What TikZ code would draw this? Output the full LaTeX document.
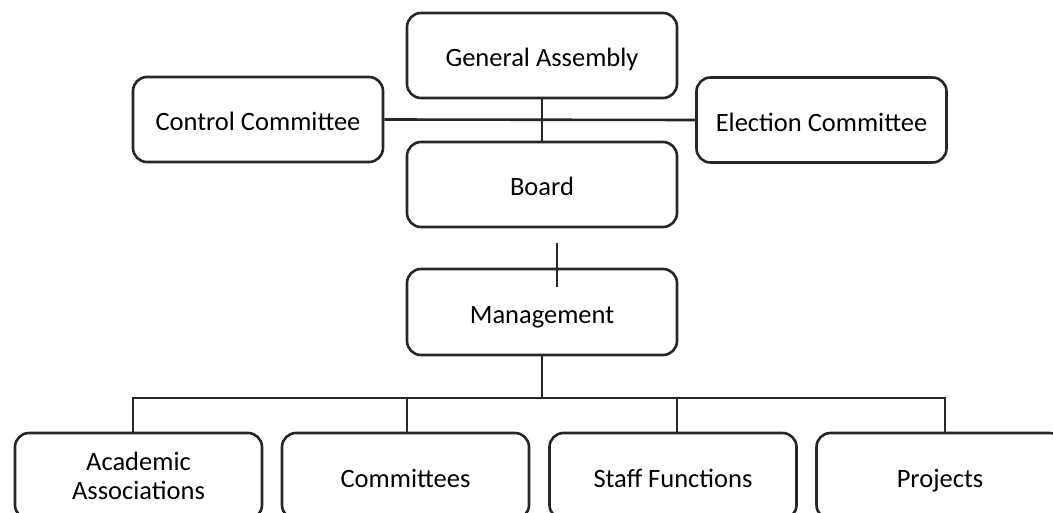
\documentclass[tikz,border=0pt]{standalone}
\usepackage{fontspec}
\setmainfont{Carlito}
\begin{document}
\begin{tikzpicture}[x=1pt,y=-1pt,
  box/.style={draw=black!85, line width=2.6pt, rounded corners=14pt,
    inner sep=0pt, align=center, fill=white,
    font=\fontsize{26.5}{29}\selectfont, text=black,
    text depth=0pt, execute at begin node={\rule{0pt}{23pt}}},
  topbox/.style={box, minimum width=270pt, minimum height=85pt},
  sidebox/.style={box, minimum width=250pt, minimum height=85pt},
  unitbox/.style={box, minimum width=247pt, minimum height=86pt},
  link/.style={draw=black!85, line width=2.6pt}]
\clip (0,0) rectangle (1053,513);
\fill[white] (0,0) rectangle (1053,513);

% upper tier
\node[topbox] (ga) at (542,55.5) {General Assembly};
\node[sidebox] (cc) at (258,119.5) {Control Committee};
\node[sidebox] (ec) at (821.5,120) {Election Committee};
\node[topbox] (board) at (542,184.5) {Board};
\node[topbox, minimum height=86pt] (mgmt) at (542,312) {Management};

% lower tier
\node[unitbox] (aa) at (138.5,476) {Academic\\Associations};
\node[unitbox] (com) at (405.5,476) {Committees};
\node[unitbox] (staff) at (673,476) {Staff Functions};
\node[unitbox] (proj) at (940,476) {Projects};

% connectors of the upper tier
\draw[link] (ga.south) -- (board.north);
\draw[link] (cc.east) -- (ec.west);
\coordinate (tickA) at (557,243);
\coordinate (tickB) at (557,287);
\draw[link] (tickA) -- (tickB);

% bus from management to the units
\coordinate (busL) at (133,398);
\coordinate (busR) at (945,398);
\coordinate (d2) at (407,398);
\coordinate (d3) at (677,398);
\draw[link] (mgmt.south) -- (mgmt.south |- busL);
\draw[link] (aa.north -| busL) -- (busL) -- (busR) -- (proj.north -| busR);
\draw[link] (d2) -- (com.north -| d2);
\draw[link] (d3) -- (staff.north -| d3);
\end{tikzpicture}
\end{document}
